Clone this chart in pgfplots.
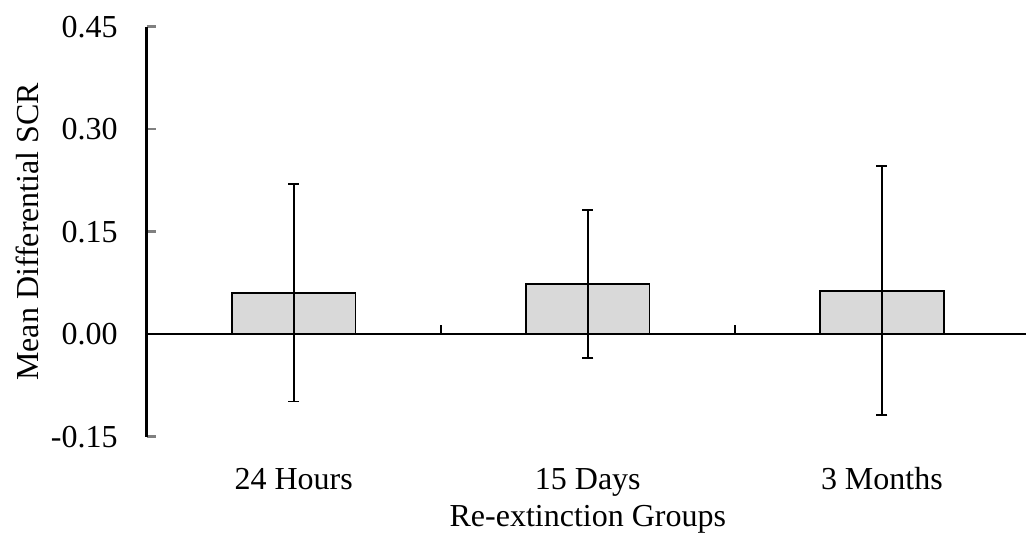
\documentclass[border=0pt]{standalone}
\usepackage{fontspec}
\setmainfont{Liberation Serif}
\usepackage{pgfplots}
\pgfplotsset{compat=1.18}
\definecolor{barfill}{HTML}{D9D9D9}
\begin{document}
\begin{tikzpicture}
\begin{axis}[
  name=ax,
  scale only axis,
  width=439.65pt, height=205pt,
  xmin=-0.5, xmax=2.49,
  ymin=-0.15, ymax=0.45,
  enlargelimits=false,
  clip=false,
  axis y line=left,
  axis x line=bottom,
  axis line style={-},
  y axis line style={line width=1.2pt},
  x axis line style={draw=none},
  xtick={0,1,2},
  xticklabels={24 Hours,15 Days,3 Months},
  xtick style={draw=none},
  ytick={-0.15,0,0.15,0.30,0.45},
  yticklabels={-0.15,0.00,0.15,0.30,0.45},
  ytick style={line width=1.2pt},
  ytick align=inside,
  major tick length=4.5pt,
  font=\fontsize{16}{19}\selectfont,
  tick label style={font=\fontsize{16}{19}\selectfont},
  label style={font=\fontsize{16}{19}\selectfont},
  yticklabel style={anchor=east, inner xsep=0pt, xshift=-14.35pt},
  xticklabel style={anchor=base, yshift=-24.15pt},
  xlabel={Re-extinction Groups},
  ylabel={Mean Differential SCR},
  xlabel style={at={(axis description cs:0.5017,-0.2202)}, anchor=base},
  ylabel style={at={(axis description cs:-0.1356,0.5)}, anchor=center},
]
\addplot[ybar, bar width=0.42, fill=barfill, draw=black, line width=0.9pt,
  error bars/.cd, y dir=both, y explicit,
  error bar style={line width=0.9pt, black},
  error mark options={line width=0.9pt, black, mark size=2.75pt, rotate=90}]
  table[x=x, y=y, y error=e] {
x y e
0 0.0604 0.1590
1 0.0732 0.1080
2 0.0638 0.1825
};
\draw[line width=1.2pt] (axis cs:-0.5,0) -- (axis cs:2.49,0);
\draw[line width=1.2pt] (axis cs:0.5,0) -- ([yshift=4.5pt]axis cs:0.5,0);
\draw[line width=1.2pt] (axis cs:1.5,0) -- ([yshift=4.5pt]axis cs:1.5,0);
\end{axis}
\pgfresetboundingbox
\path[use as bounding box] ([shift={(-73.35pt,-51.15pt)}]ax.south west) rectangle ([shift={(0pt,13.35pt)}]ax.north east);
\end{tikzpicture}
\end{document}
